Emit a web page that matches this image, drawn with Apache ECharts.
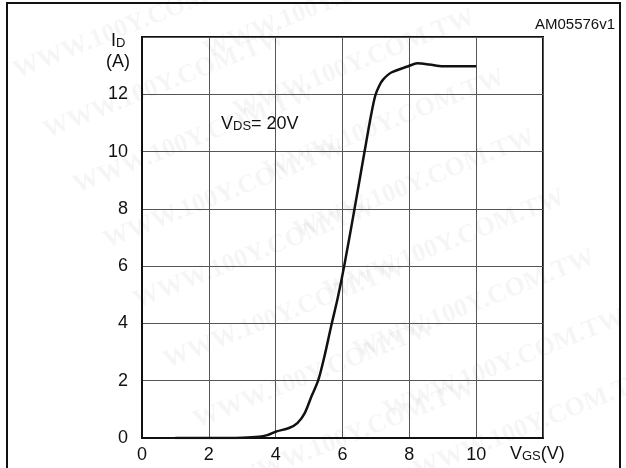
<!DOCTYPE html>
<html>
<head>
<meta charset="utf-8">
<script src="https://cdn.jsdelivr.net/npm/echarts@6/dist/echarts.min.js"></script>
<style>
  html, body { margin: 0; padding: 0; background: #fff; }
  #chart { width: 626px; height: 468px; }
</style>
</head>
<body>
<div id="chart"></div>
<script>
// transfer characteristic
const vgs = [1.0, 2.0, 3.0, 3.5, 3.75, 4.0, 4.4, 4.65, 4.87, 5.07, 5.27, 5.45, 5.66, 5.85, 6.05, 6.36, 6.66, 6.86, 6.98, 7.1, 7.22, 7.46, 7.97, 8.24, 8.6, 9.0, 10.0]
const id = [0, 0, 0.01, 0.04, 0.1, 0.22, 0.35, 0.52, 0.87, 1.45, 2.0, 2.8, 3.9, 4.85, 6.0, 8.0, 10.0, 11.3, 11.95, 12.3, 12.52, 12.76, 12.98, 13.08, 13.04, 12.98, 12.98]

const xTicks = [0, 2, 4, 6, 8, 10]
const yTicks = [0, 2, 4, 6, 8, 10, 12]

const FONT = '"Liberation Sans", Arial, sans-serif'

const chart = echarts.init(document.getElementById('chart'), null, { renderer: 'canvas' })

// faint watermark text, like the scanned datasheet
const watermark = []
const wmPos = [
  [10, 60], [40, 120], [70, 175], [100, 230], [130, 290], [160, 350], [190, 410], [230, 470],
  [200, 40], [230, 100], [260, 160], [290, 220], [320, 280], [350, 340], [380, 400], [410, 460]
]
wmPos.forEach(p => {
  watermark.push({
    type: 'text',
    x: p[0],
    y: p[1],
    rotation: 0.38,
    z: -10,
    silent: true,
    style: {
      text: 'WWW.100Y.COM.TW',
      font: 'bold 26px "Liberation Serif", serif',
      fill: 'rgba(0,0,0,0.04)'
    }
  })
})

const label = (x, y, text, align) => ({
  type: 'text',
  x: x,
  y: y,
  style: {
    text: text,
    align: align || 'left',
    verticalAlign: 'middle',
    fill: '#111',
    rich: {
      a: { fontSize: 18, fontFamily: FONT, verticalAlign: 'bottom' },
      b: { fontSize: 13, fontFamily: FONT, verticalAlign: 'bottom' },
      c: { fontSize: 15, fontFamily: FONT }
    }
  }
})

const option = {
  animation: false,
  backgroundColor: '#fff',
  grid: {
    left: 142,
    right: 83,
    top: 37,
    bottom: 30,
    show: true,
    borderColor: '#111',
    borderWidth: 2
  },
  xAxis: {
    type: 'value',
    min: 0,
    max: 12,
    interval: 2,
    axisLine: { lineStyle: { color: '#111', width: 2 } },
    axisTick: { show: false },
    splitLine: { lineStyle: { color: '#555', width: 1 } },
    axisLabel: {
      color: '#111',
      fontSize: 18,
      fontFamily: FONT,
      margin: 8,
      formatter: v => (xTicks.indexOf(v) >= 0 ? String(v) : '')
    }
  },
  yAxis: {
    type: 'value',
    min: 0,
    max: 14,
    interval: 2,
    axisLine: { lineStyle: { color: '#111', width: 2 } },
    axisTick: { show: false },
    splitLine: { lineStyle: { color: '#555', width: 1 } },
    axisLabel: {
      color: '#111',
      fontSize: 18,
      fontFamily: FONT,
      margin: 14,
      formatter: v => (yTicks.indexOf(v) >= 0 ? String(v) : '')
    }
  },
  graphic: watermark.concat([
    {
      type: 'rect',
      shape: { x: 7, y: 3, width: 613, height: 480 },
      style: { fill: 'none', stroke: '#111', lineWidth: 2 },
      silent: true
    },
    label(615, 25, '{c|AM05576v1}', 'right'),
    label(111, 41, '{a|I}{b|D}'),
    label(106, 62, '{a|(A)}'),
    label(221, 124, '{a|V}{b|DS}{a|= 20V}'),
    label(510, 454, '{a|V}{b|GS}{a|(V)}')
  ]),
  series: [
    {
      type: 'line',
      data: vgs.map((v, i) => [v, id[i]]),
      smooth: 0.3,
      symbol: 'none',
      lineStyle: { color: '#111', width: 2.5 }
    }
  ]
}

chart.setOption(option)
</script>
</body>
</html>
